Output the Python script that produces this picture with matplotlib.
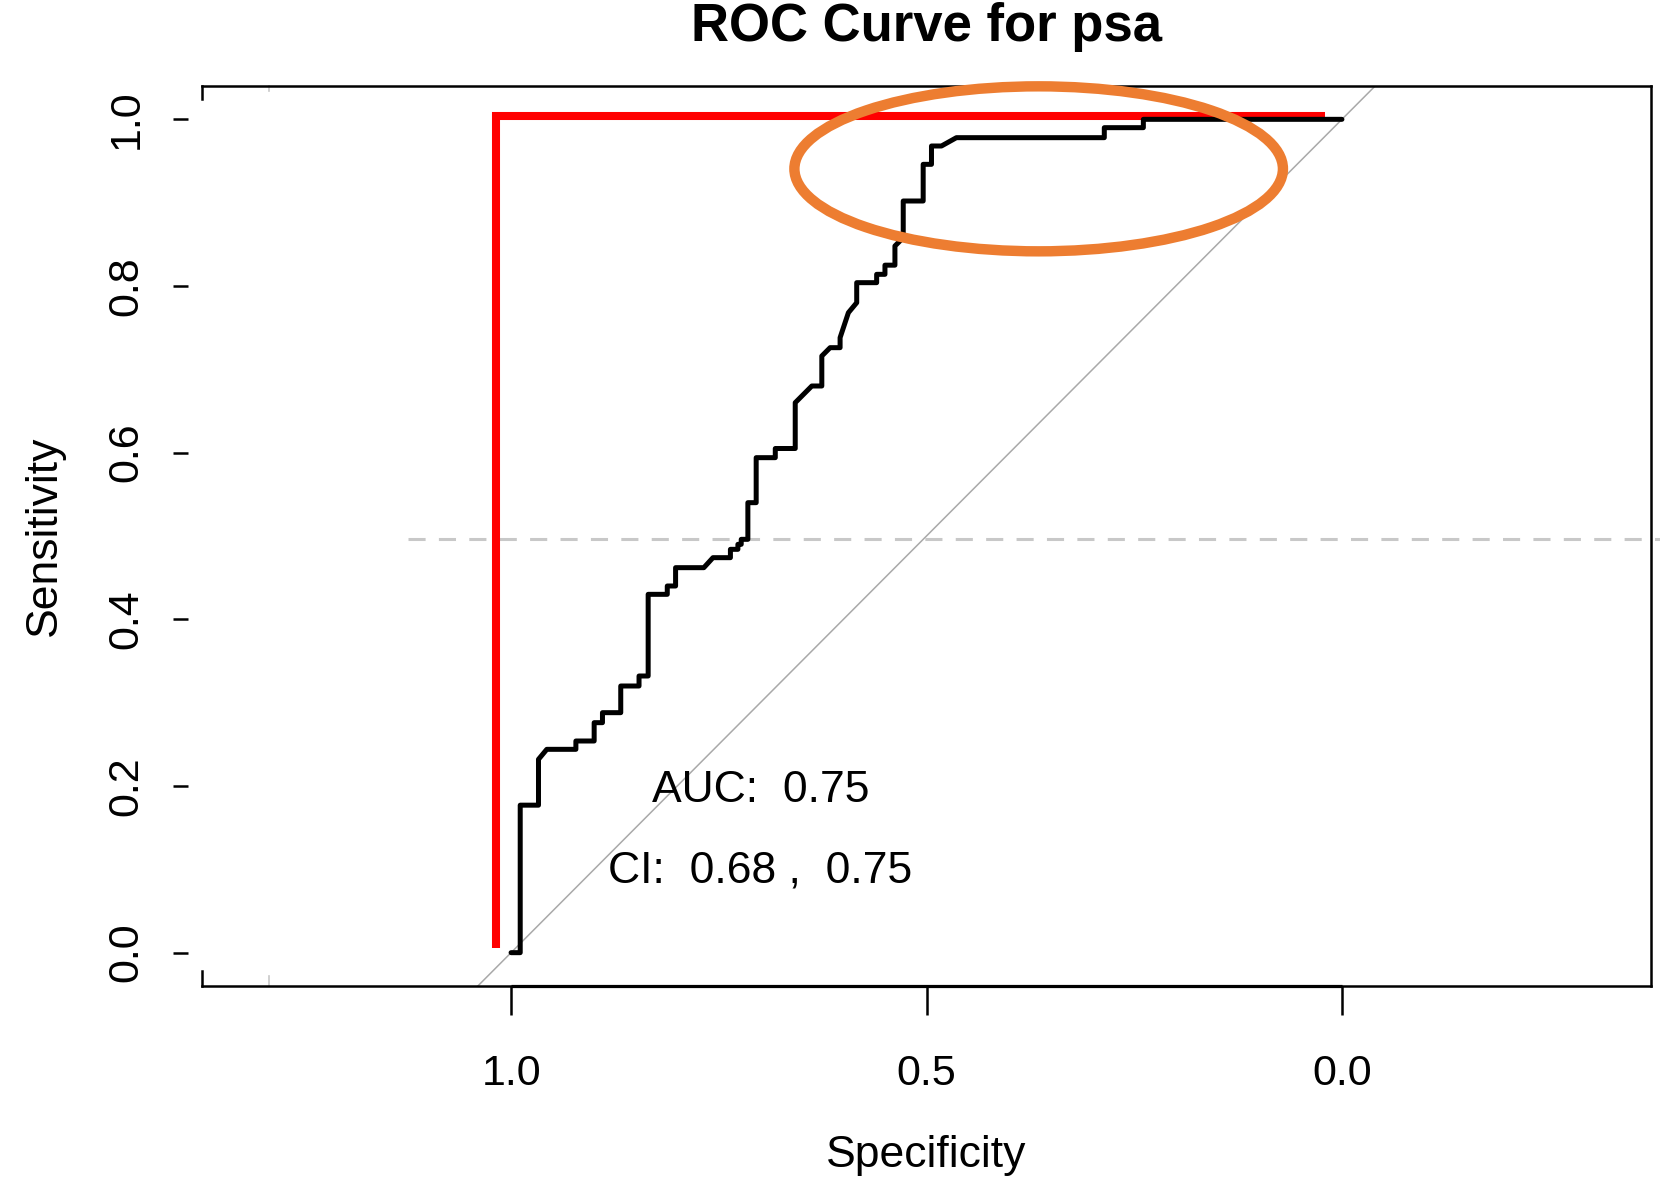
import matplotlib
matplotlib.use("Agg")
import matplotlib.pyplot as plt
from matplotlib.patches import Ellipse
import matplotlib.transforms as mtransforms

plt.rcParams['font.family'] = ['Liberation Sans', 'DejaVu Sans']

# ---- data ----
roc_specificity = [1.000, 0.989, 0.989, 0.967, 0.967, 0.957, 0.922, 0.922, 0.900, 0.900,
                   0.890, 0.890, 0.868, 0.868, 0.846, 0.846, 0.835, 0.835, 0.812, 0.812,
                   0.802, 0.802, 0.768, 0.757, 0.736, 0.736, 0.727, 0.727, 0.723, 0.723,
                   0.715, 0.715, 0.705, 0.705, 0.682, 0.682, 0.658, 0.658, 0.638, 0.626,
                   0.626, 0.616, 0.604, 0.604, 0.594, 0.584, 0.584, 0.560, 0.560, 0.550,
                   0.550, 0.538, 0.538, 0.528, 0.528, 0.504, 0.504, 0.494, 0.494, 0.482,
                   0.464, 0.286, 0.286, 0.239, 0.239, 0.000]
roc_sensitivity = [0.000, 0.000, 0.177, 0.177, 0.232, 0.244, 0.244, 0.254, 0.254, 0.276,
                   0.276, 0.288, 0.288, 0.320, 0.320, 0.332, 0.332, 0.430, 0.430, 0.440,
                   0.440, 0.462, 0.462, 0.474, 0.474, 0.484, 0.484, 0.490, 0.490, 0.496,
                   0.496, 0.540, 0.540, 0.594, 0.594, 0.605, 0.605, 0.660, 0.680, 0.680,
                   0.716, 0.726, 0.726, 0.738, 0.768, 0.780, 0.804, 0.804, 0.814, 0.814,
                   0.825, 0.825, 0.848, 0.858, 0.902, 0.902, 0.946, 0.946, 0.968, 0.968,
                   0.978, 0.978, 0.990, 0.990, 1.000, 1.000]

ideal_specificity = [1.018, 1.018, 0.020]
ideal_sensitivity = [0.006, 1.004, 1.004]

x_ticks = [1.0, 0.5, 0.0]
x_tick_labels = ["1.0", "0.5", "0.0"]
y_ticks = [0.0, 0.2, 0.4, 0.6, 0.8, 1.0]
y_tick_labels = ["0.0", "0.2", "0.4", "0.6", "0.8", "1.0"]

title_text = "ROC Curve for psa"
x_label = "Specificity"
y_label = "Sensitivity"
auc_text = "AUC:  0.75"
ci_text = "CI:  0.68 ,  0.75"
auc_pos = (0.700, 0.194)
ci_pos = (0.700, 0.098)

cutoff_sensitivity = 0.496
cutoff_span = (1.124, -0.383)

highlight_center = (0.365, 0.9406)
highlight_width = 0.588
highlight_height = 0.198

# ---- figure ----
W, H = 1660, 1181
fig = plt.figure(figsize=(W / 100, H / 100), dpi=100)
L, R, T, B = 202, 1651, 86, 986
ax = fig.add_axes([L / W, 1 - B / H, (R - L) / W, (B - T) / H])
ax.set_xlim(1.372, -0.372)
ax.set_ylim(-0.04, 1.04)

box_lw = 1.8
for side in ['top', 'right', 'bottom']:
    ax.spines[side].set_linewidth(box_lw)
    ax.spines[side].set_color('black')
ax.spines['left'].set_visible(False)
ax.spines['left'].set_position(('outward', 10.1))

# box corner hooks on the left side
ax.plot([0, 0], [0, 15 / 900], transform=ax.transAxes, color='black', lw=box_lw,
        clip_on=False, solid_capstyle='projecting')
ax.plot([0, 0], [1 - 13 / 900, 1], transform=ax.transAxes, color='black', lw=box_lw,
        clip_on=False, solid_capstyle='projecting')

# faint grey marks on top/bottom box edges
blend = mtransforms.blended_transform_factory(ax.transData, ax.transAxes)
ax.plot([1.291, 1.291], [0, 10 / 900], transform=blend, color='#C8C8C8', lw=1.2, clip_on=False)
ax.plot([1.291, 1.291], [1 - 5 / 900, 1], transform=blend, color='#C8C8C8', lw=1.2, clip_on=False)

# axis line along ticks (R draws it over the box)
ax.plot([x_ticks[0], x_ticks[-1]], [0, 0], transform=blend, color='black', lw=2.3,
        clip_on=False, solid_capstyle='butt')

ax.set_xticks(x_ticks, x_tick_labels)
ax.set_yticks(y_ticks, y_tick_labels)
ax.tick_params(axis='x', length=20.9, width=1.8, pad=28, labelsize=31, direction='out')
ax.tick_params(axis='y', length=10.8, width=1.8, pad=19.2, labelsize=31, direction='out',
               labelrotation=90)
for lbl in ax.get_yticklabels():
    lbl.set_va('center')

ax.set_xlabel(x_label, fontsize=32)
ax.xaxis.set_label_coords(0.5, (986 - 1156) / 900)
ax.xaxis.label.set_va('center')
ax.set_ylabel(y_label, fontsize=32)
ax.yaxis.set_label_coords((44.4 - 202) / 1449, 0.5)
ax.yaxis.label.set_va('center')
ax.yaxis.label.set_ha('center')

ax.set_title(title_text, fontsize=38, fontweight='bold', y=(986 - 35) / 900, va='center')

# chance diagonal
ax.axline((1, 0), (0, 1), color='#A9A9A9', lw=1.1, zorder=2)

# cut-off dashed line
ax.plot(list(cutoff_span), [cutoff_sensitivity, cutoff_sensitivity], color='#C8C8C8',
        lw=2.2, linestyle=(0, (5.6, 4.35)), clip_on=False, zorder=2)

# ideal curve
ax.plot(ideal_specificity, ideal_sensitivity, color='#FF0000', lw=5.8, zorder=3,
        solid_joinstyle='miter', solid_capstyle='butt')

# ROC curve
ax.plot(roc_specificity, roc_sensitivity, color='black', lw=3.6, zorder=4,
        solid_joinstyle='round', solid_capstyle='round')

ax.text(auc_pos[0], auc_pos[1], auc_text, ha='center', va='center', fontsize=32, zorder=5)
ax.text(ci_pos[0], ci_pos[1], ci_text, ha='center', va='center', fontsize=32, zorder=5)

ax.add_patch(Ellipse(highlight_center, highlight_width, highlight_height, fill=False,
                     edgecolor='#ED7D31', lw=7.5, clip_on=False, zorder=6))

fig.savefig('out.png', dpi=100)
